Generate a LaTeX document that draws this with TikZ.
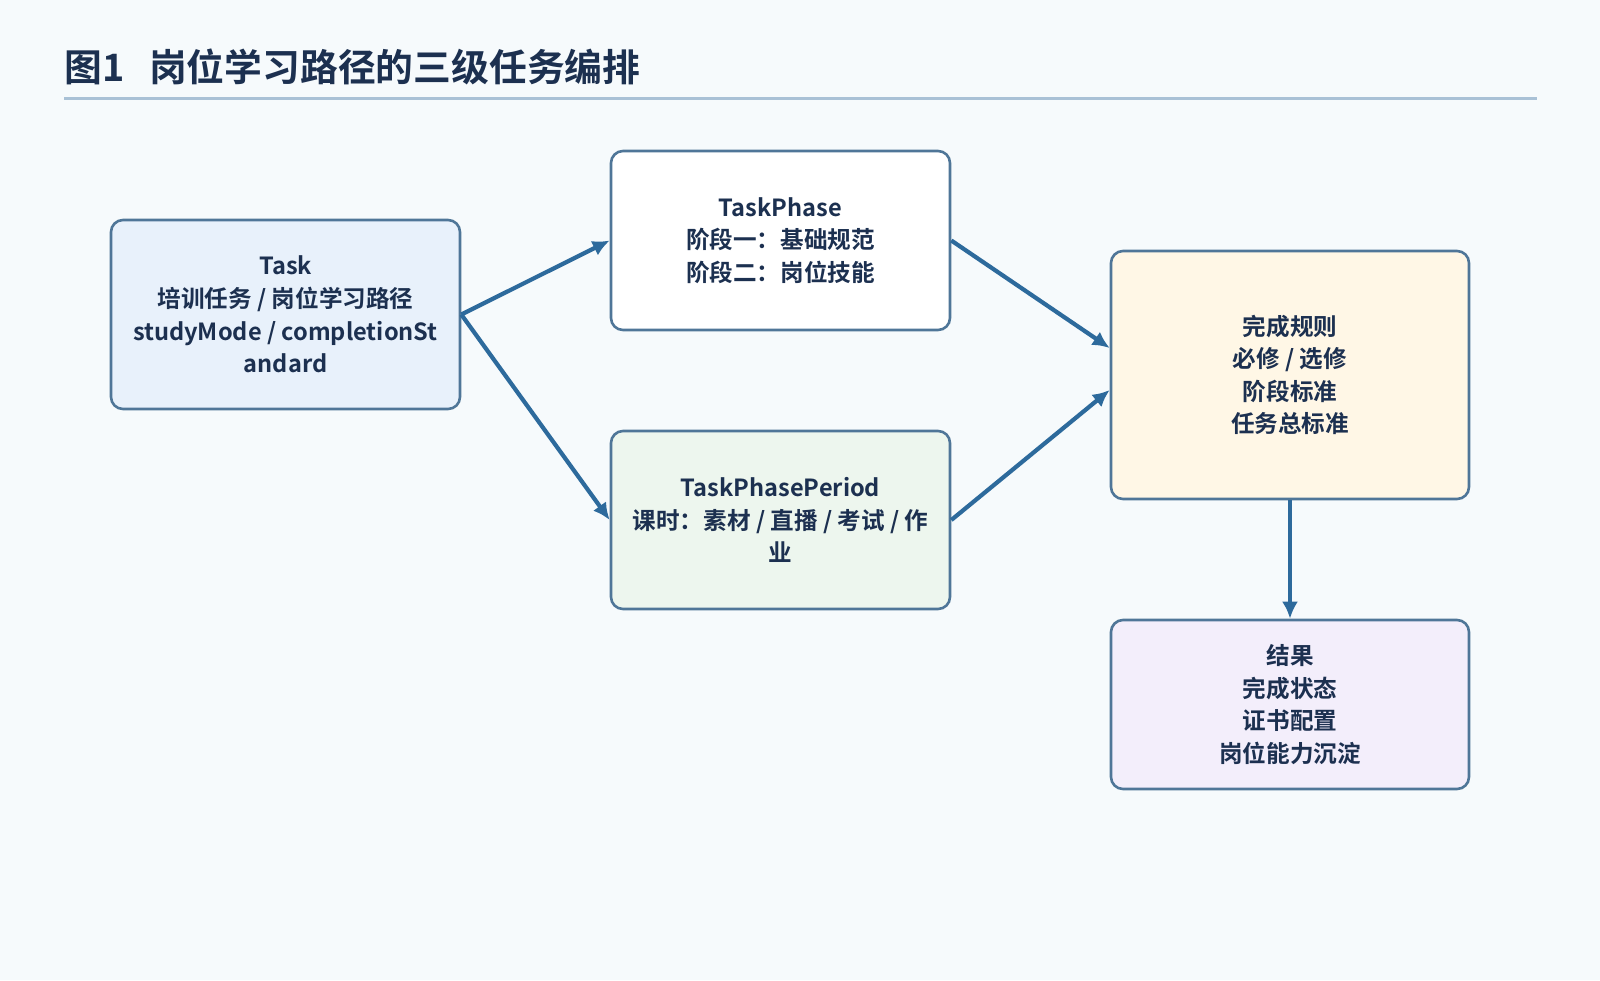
\documentclass[tikz,border=0pt]{standalone}
\usepackage{fontspec}
\setmainfont{Noto Sans CJK SC}[BoldFont={Noto Sans CJK SC Bold}]
\usepackage{xcolor}
\usetikzlibrary{arrows.meta,positioning,calc}
\definecolor{Page}{HTML}{F6FAFC}
\definecolor{Ink}{HTML}{1C3050}
\definecolor{Line}{HTML}{4F7698}
\definecolor{Arrow}{HTML}{2D6A9C}
\definecolor{Rule}{HTML}{A9C1D6}
\definecolor{BlueSoft}{HTML}{E8F1FB}
\definecolor{GreenSoft}{HTML}{EDF6EE}
\definecolor{AmberSoft}{HTML}{FFF7E6}
\definecolor{VioletSoft}{HTML}{F3EEFB}
\begin{document}
\begin{tikzpicture}[x=0.5pt,y=-0.5pt,>=Latex]
\tikzset{flowbox/.style={rounded corners=6pt,draw=Line,line width=1.3pt,align=center,text=Ink,font=\fontsize{11.8}{16.3}\selectfont\bfseries}, arrow/.style={-{Latex[length=8.5pt,width=8pt]},line width=2.1pt,draw=Arrow}}
\fill[Page] (0,0) rectangle (1600,980);
\useasboundingbox (0,0) rectangle (1600,980);
\node[anchor=west,inner sep=0pt,text=Ink,font=\fontsize{18.9}{22}\selectfont\bfseries] (title) at (64,67) {图1\hspace{0.65em}岗位学习路径的三级任务编排};
\draw[Rule,line width=1.5pt] (64,98) -- (1537,98);
\node[flowbox,fill=BlueSoft,minimum width=174.5pt,minimum height=94.5pt] (task) at (285.5,314.5) {Task\\培训任务 / 岗位学习路径\\studyMode / completionSt\\andard};
\node[flowbox,fill=white,minimum width=169.5pt,minimum height=89.5pt] (phase) at (780.5,240.5) {TaskPhase\\阶段一：基础规范\\阶段二：岗位技能};
\node[flowbox,fill=GreenSoft,minimum width=169.5pt,minimum height=89pt] (period) at (780.5,520) {TaskPhasePeriod\\课时：素材 / 直播 / 考试 / 作\\业};
\node[flowbox,fill=AmberSoft,minimum width=179pt,minimum height=124pt] (rules) at (1290,375) {完成规则\\必修 / 选修\\阶段标准\\任务总标准};
\node[flowbox,fill=VioletSoft,minimum width=179pt,minimum height=84.5pt] (result) at (1290,704.5) {结果\\完成状态\\证书配置\\岗位能力沉淀};
\draw[arrow] (task.east) -- (phase.west);
\draw[arrow] (task.east) -- (period.west);
\draw[arrow] (phase.east) -- ($(rules.west)+(0,-27)$);
\draw[arrow] (period.east) -- ($(rules.west)+(0,15)$);
\draw[arrow] (rules.south) -- (result.north);
\end{tikzpicture}
\end{document}
